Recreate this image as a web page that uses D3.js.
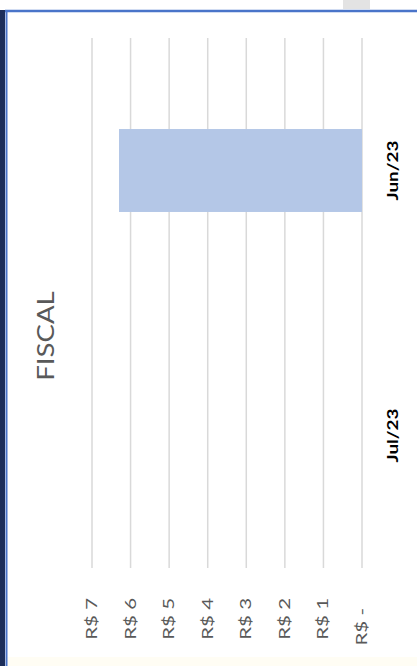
<!DOCTYPE html>
<html>
<head>
<meta charset="utf-8">
<script src="https://cdn.jsdelivr.net/npm/d3@7"></script>
<style>
  body { margin: 0; background: #ffffff; }
  svg { display: block; }
  text { font-family: Lato, "Open Sans", sans-serif; }
</style>
</head>
<body>
<div class="chart"></div>
<script>
var svgWidth = 417;
var svgHeight = 666;

// chart data
var categories = ["Jun/23", "Jul/23"];
var fiscalValues = [6.3, 0];
var tickValues = [0, 1, 2, 3, 4, 5, 6, 7];
var tickLabels = ["R$ -", "R$ 1", "R$ 2", "R$ 3", "R$ 4", "R$ 5", "R$ 6", "R$ 7"];
var chartTitle = "FISCAL";

var svg = d3.select(".chart")
  .append("svg")
  .attr("width", svgWidth)
  .attr("height", svgHeight);

// window frame around the (rotated) chart
svg.append("rect")
  .attr("x", 0).attr("y", 657)
  .attr("width", svgWidth).attr("height", 9)
  .attr("fill", "#fffdf4");
svg.append("rect")
  .attr("x", 343).attr("y", 0)
  .attr("width", 27).attr("height", 9)
  .attr("fill", "#e3e3e3");
svg.append("rect")
  .attr("x", 0).attr("y", 10)
  .attr("width", 5).attr("height", svgHeight - 10)
  .attr("fill", "#1c2e5a");
svg.append("line")
  .attr("x1", 6.5).attr("x2", 6.5)
  .attr("y1", 10).attr("y2", svgHeight)
  .attr("stroke", "#4a74c9").attr("stroke-width", 2);
svg.append("line")
  .attr("x1", 5).attr("x2", svgWidth)
  .attr("y1", 11).attr("y2", 11)
  .attr("stroke", "#4a74c9").attr("stroke-width", 2.5);

// value axis runs right -> left, categories top -> bottom
var xScale = d3.scaleLinear()
  .domain([0, 7])
  .range([362, 92]);

var yScale = d3.scaleBand()
  .domain(categories)
  .range([38, 568])
  .paddingInner(0.687)
  .paddingOuter(0.3435);

// gridlines
svg.append("g")
  .selectAll("line")
  .data(tickValues)
  .enter()
  .append("line")
  .attr("x1", d => xScale(d))
  .attr("x2", d => xScale(d))
  .attr("y1", 38)
  .attr("y2", 568)
  .attr("stroke", "#d9d9d9")
  .attr("stroke-width", 1.5);

// bars
svg.append("g")
  .selectAll("rect")
  .data(categories)
  .enter()
  .append("rect")
  .attr("x", (d, i) => xScale(fiscalValues[i]))
  .attr("y", d => yScale(d))
  .attr("width", (d, i) => xScale(0) - xScale(fiscalValues[i]))
  .attr("height", yScale.bandwidth())
  .attr("fill", "#b4c7e7");

// value tick labels (rotated)
svg.append("g")
  .selectAll("text")
  .data(tickValues)
  .enter()
  .append("text")
  .attr("transform", d => `translate(${xScale(d) + 5}, ${d === 0 ? 608 : 598}) rotate(-90) scale(1.28, 1)`)
  .attr("text-anchor", "end")
  .attr("font-size", 16)
  .attr("fill", "#595959")
  .text((d, i) => tickLabels[i]);

// category labels
svg.append("g")
  .selectAll("text")
  .data(categories)
  .enter()
  .append("text")
  .attr("transform", d => `translate(398, ${yScale(d) + yScale.bandwidth() / 2}) rotate(-90) scale(1.18, 1)`)
  .attr("text-anchor", "middle")
  .attr("font-size", 16)
  .attr("font-weight", "bold")
  .attr("fill", "#000000")
  .text(d => d);

// title
svg.append("text")
  .attr("transform", "translate(54, 336) rotate(-90) scale(1.2, 1)")
  .attr("text-anchor", "middle")
  .attr("font-size", 23)
  .attr("fill", "#595959")
  .text(chartTitle);
</script>
</body>
</html>
